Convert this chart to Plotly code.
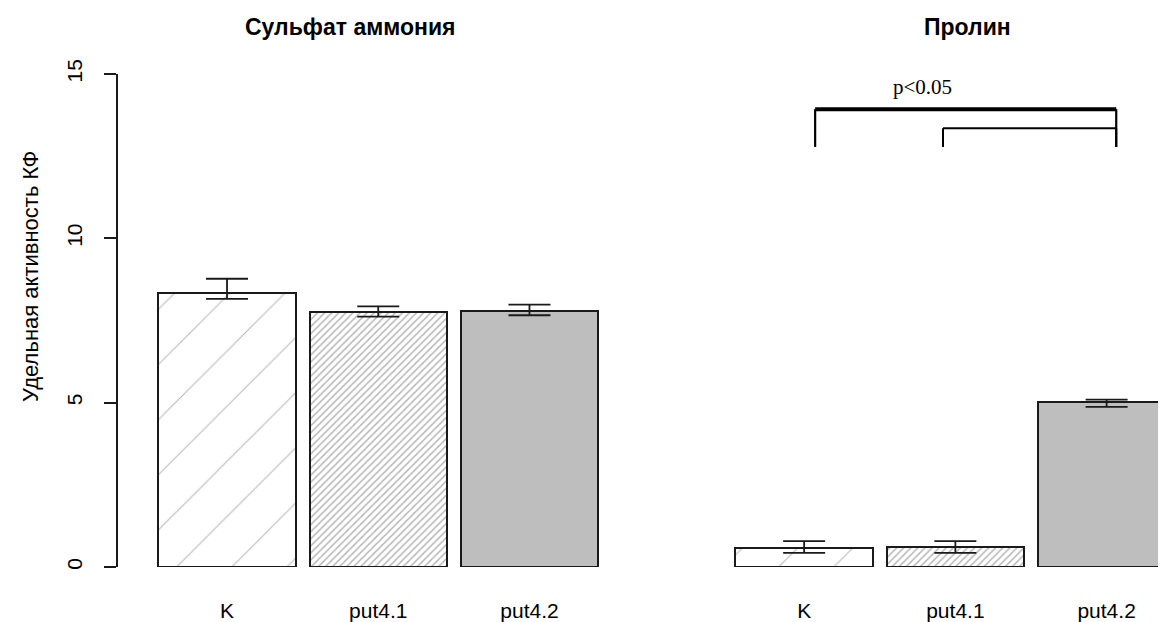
import plotly.graph_objects as go

# ---- data ----
categories = ["K", "put4.1", "put4.2"]
bar_pos = [0.6, 1.7, 2.8]

panel_titles = ["Сульфат аммония", "Пролин"]

sulfate_mean = [8.33, 7.75, 7.79]
sulfate_upper = [8.77, 7.93, 7.98]
sulfate_lower = [8.16, 7.62, 7.66]

proline_mean = [0.57, 0.62, 5.01]
proline_upper = [0.79, 0.79, 5.09]
proline_lower = [0.43, 0.43, 4.87]

y_ticks = [0, 5, 10, 15]
y_label = "Удельная активность КФ"

# significance brackets (right panel, data coords)
big_bracket = dict(x0=0.68, x1=2.87, y_top=13.93, y_bot=12.78)
small_bracket = dict(x0=1.61, x1=2.87, y_top=13.35, y_bot=12.78)
sig_text = "p<0.05"
sig_pos = (1.46, 14.6)

OFF = 8  # page body margin
W, H = 1166 - OFF, 622 - OFF
TOP_PX, BOT_PX = 74 - OFF, 567 - OFF  # y=15 and y=0 positions inside figure
MT, MB = TOP_PX, H - BOT_PX
PH = BOT_PX - TOP_PX


def px_x(sx):
    return (sx - OFF) / W


def px_y(sy):
    return (BOT_PX - (sy - OFF)) / PH


patterns = [
    dict(shape="/", size=39, solidity=0.03, fgcolor="#bdbdbd", bgcolor="white", fgopacity=1),
    dict(shape="/", size=5, solidity=0.3, fgcolor="#b8b8b8", bgcolor="white", fgopacity=1),
    dict(shape="", fgcolor="#bebebe", bgcolor="#bebebe"),
]
fills = ["white", "white", "#bebebe"]

fig = go.Figure()


def add_panel(means, upper, lower, xaxis, yaxis):
    for i in range(len(categories)):
        fig.add_trace(go.Bar(
            x=[bar_pos[i]], y=[means[i]], width=1.0,
            marker=dict(color=fills[i], line=dict(color="#1a1a1a", width=2),
                        pattern=patterns[i]),
            error_y=dict(type="data", symmetric=False,
                         array=[upper[i] - means[i]],
                         arrayminus=[means[i] - lower[i]],
                         color="#1a1a1a", thickness=1.8, width=21),
            xaxis=xaxis, yaxis=yaxis, showlegend=False, hoverinfo="skip",
        ))


add_panel(sulfate_mean, sulfate_upper, sulfate_lower, "x", "y")
add_panel(proline_mean, proline_upper, proline_lower, "x2", "y2")

tickfont = dict(family="Liberation Sans, Arial, sans-serif", size=21, color="black")

xcommon = dict(tickvals=bar_pos, ticktext=categories, ticks="outside", ticklen=25,
               tickcolor="rgba(0,0,0,0)", showline=False, showgrid=False,
               zeroline=False, tickfont=tickfont)

fig.update_layout(
    width=W, height=H,
    margin=dict(l=0, r=0, t=MT, b=MB),
    plot_bgcolor="white", paper_bgcolor="white",
    bargap=0,
    xaxis=dict(domain=[px_x(118), px_x(600)], range=[-0.193, 3.313], anchor="y", **xcommon),
    xaxis2=dict(domain=[px_x(720), 1.0], range=[-0.012, 3.232], anchor="y2", **xcommon),
    yaxis=dict(range=[0, 15], tickvals=y_ticks, ticks="outside", ticklen=12,
               tickwidth=1.5, tickcolor="#1a1a1a", showline=True, linecolor="#1a1a1a",
               linewidth=1.5, showgrid=False, zeroline=False, tickangle=-90,
               ticklabelstandoff=14, tickfont=tickfont, anchor="x"),
    yaxis2=dict(range=[0, 15], visible=False, anchor="x2", matches="y"),
)

# panel titles
title_x = [350, 968]
for t, xs in zip(panel_titles, title_x):
    fig.add_annotation(text="<b>" + t + "</b>", x=px_x(xs), y=px_y(27),
                       xref="paper", yref="paper", showarrow=False,
                       font=dict(family="Liberation Sans, Arial, sans-serif", size=23, color="black"),
                       xanchor="center", yanchor="middle")

# y label
fig.add_annotation(text=y_label, x=px_x(30), y=px_y(277),
                   xref="paper", yref="paper", showarrow=False, textangle=-90,
                   font=dict(family="Liberation Sans, Arial, sans-serif", size=22, color="black"),
                   xanchor="center", yanchor="middle")


def seg(x0, y0, x1, y1, width):
    fig.add_shape(type="line", x0=x0, y0=y0, x1=x1, y1=y1, xref="x2", yref="y2",
                  line=dict(color="black", width=width))


def bracket(b, hwidth, vwidth):
    seg(b["x0"], b["y_bot"], b["x0"], b["y_top"], vwidth)
    seg(b["x1"], b["y_bot"], b["x1"], b["y_top"], vwidth)
    seg(b["x0"], b["y_top"], b["x1"], b["y_top"], hwidth)


bracket(big_bracket, 4, 2.2)
bracket(small_bracket, 2, 2)

fig.add_annotation(text=sig_text, x=sig_pos[0], y=sig_pos[1], xref="x2", yref="y2",
                   showarrow=False, xanchor="center", yanchor="middle",
                   font=dict(family="Liberation Serif, Times New Roman, serif", size=21, color="black"))

fig.write_html("out.html")
